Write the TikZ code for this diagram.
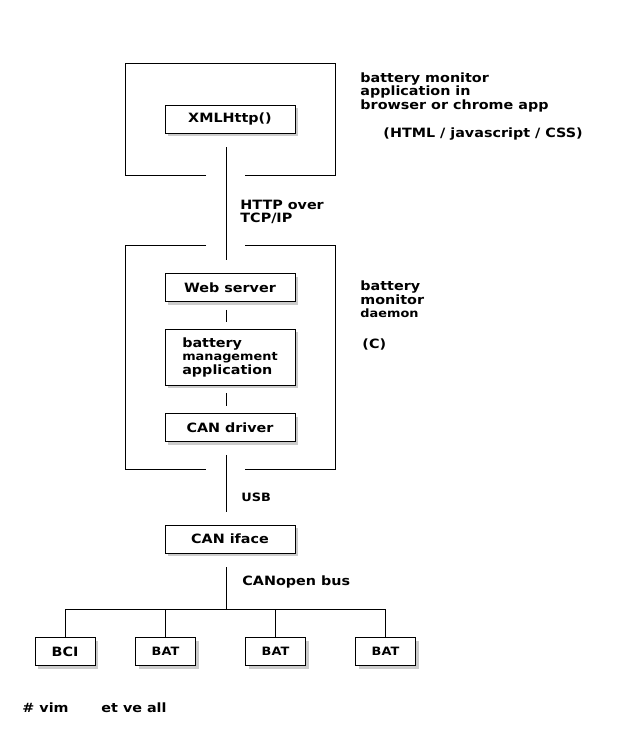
\documentclass[tikz,border=0pt]{standalone}
\usepackage{fontspec}
\setmainfont{DejaVu Sans}[FakeStretch=1.12]
\usetikzlibrary{shadows}
\newcommand\lblsmall{\fontsize{11.5}{13.5}\selectfont}
\begin{document}
\begin{tikzpicture}[x=1pt,y=-1pt,line width=.9pt,
  font=\bfseries\fontsize{12.8}{13.5}\selectfont,
  box/.style={draw,fill=white,inner sep=0pt,minimum width=130pt,minimum height=28pt,
    drop shadow={shadow xshift=3pt,shadow yshift=-3pt,opacity=.4}},
  dev/.style={box,minimum width=60pt},
  lbl/.style={anchor=base west,inner sep=0pt,align=left}]
\useasboundingbox(0,0)rectangle(630,742);
\coordinate(spine)at(226,0);
%
\draw(206,175)--(125,175)--(125,63)--(335,63)--(335,175)--(245,175);
\node[box](xml)at(230,119){XMLHttp()};
\node[lbl](app)at(360,109.3){battery monitor\\application in\\browser or chrome app};
\node[lbl](html)at(383,137.7){(HTML / javascript / CSS)};
\node[lbl](http)at(240,222.8){HTTP over\\TCP/IP};
%
\draw(206,245)--(125,245)--(125,469)--(206,469);
\draw(245,245)--(335,245)--(335,469)--(245,469);
\node[box](web)at(230,287.5){Web server};
\node[box,minimum height=56pt,align=left](bm)at(230,357){battery\\{\lblsmall management}\\application};
\node[box](drv)at(230,427.5){CAN driver};
\node[lbl](dmn)at(360,317.8){battery\\monitor\\{\lblsmall daemon}};
\node[lbl](lang)at(362,348.3){(C)};
%
\node[lbl](usb)at(241,501.5){\lblsmall USB};
\node[box](iface)at(230,539){CAN iface};
\node[lbl](can)at(242,585){CANopen bus};
\coordinate(bus)at(226,609);
\node[dev](bci)at(65,651.5){BCI};
\node[dev](bat1)at(165.5,651.5){\lblsmall BAT};
\node[dev](bat2)at(275.5,651.5){\lblsmall BAT};
\node[dev](bat3)at(385.5,651.5){\lblsmall BAT};
\node[lbl](vim)at(22,712){\# vim};
\node[lbl](opts)at(101,712){et ve all};
%
\draw[shorten <=14pt,shorten >=13pt](xml.south-|spine)--(web.north-|spine);
\draw[shorten <=8pt,shorten >=7pt](web.south-|spine)--(bm.north-|spine);
\draw[shorten <=8pt,shorten >=7pt](bm.south-|spine)--(drv.north-|spine);
\draw[shorten <=13pt,shorten >=13pt](drv.south-|spine)--(iface.north-|spine);
\draw[shorten <=14pt](iface.south-|spine)--(bus);
\draw(bci.north|-bus)--(bat3.north|-bus);
\foreach \n in {bci,bat1,bat2,bat3}\draw(\n.north|-bus)--(\n.north);
\end{tikzpicture}
\end{document}
